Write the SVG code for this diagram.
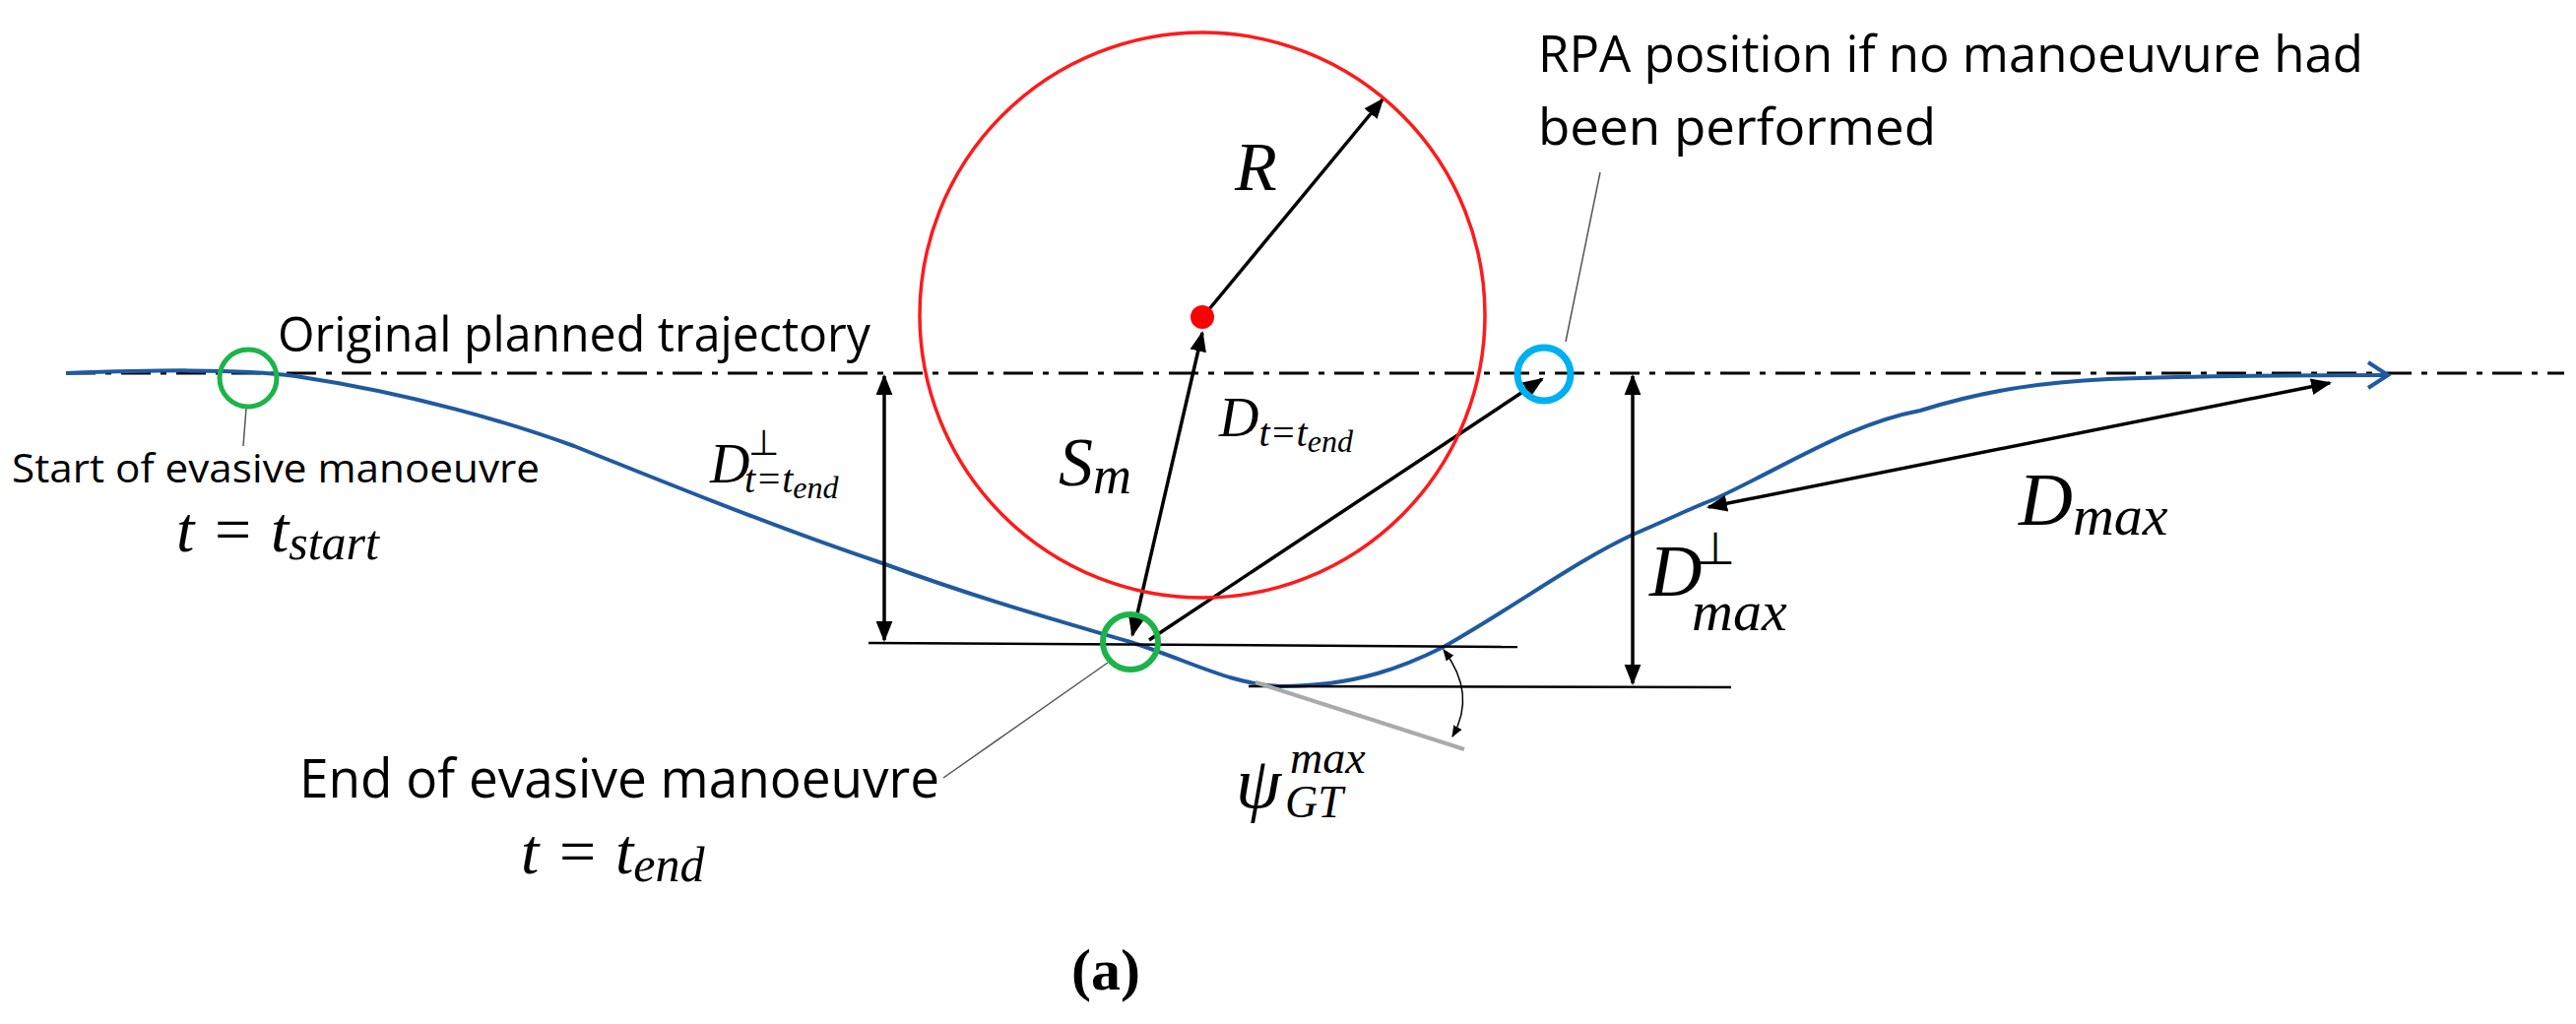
<svg xmlns="http://www.w3.org/2000/svg" width="2616" height="1040" viewBox="0 0 2616 1040">
<style>
.t{font-family:"Open Sans","Liberation Sans",sans-serif;fill:#000}
.m{font-family:"Liberation Serif","DejaVu Serif",serif;font-style:italic;fill:#000}
.r{font-family:"Liberation Serif",serif;fill:#000}
.a{stroke:#000;stroke-width:3.5;fill:none;marker-end:url(#h);marker-start:url(#h)}
.a1{stroke:#000;stroke-width:3.5;fill:none;marker-end:url(#h)}
.ln{stroke:#000;stroke-width:2.5;fill:none}
.ld{stroke:#555;stroke-width:1.5;fill:none}
</style>
<defs>
<marker id="h" viewBox="0 0 10 10" refX="9" refY="5" markerWidth="6" markerHeight="6" orient="auto-start-reverse" markerUnits="strokeWidth"><path d="M0,1 L10,5 L0,9 Z" fill="#000"/></marker>
<marker id="hs" viewBox="0 0 10 10" refX="9" refY="5" markerWidth="8" markerHeight="8" orient="auto-start-reverse" markerUnits="strokeWidth"><path d="M0,1 L10,5 L0,9 Z" fill="#000"/></marker>
</defs>
<rect width="2616" height="1040" fill="#fff"/>
<g id="connectors">
<line x1="67" y1="379" x2="2604" y2="379" stroke="#000" stroke-width="3" stroke-dasharray="30,10,6,10"/>
<path d="M67,379 C150,376 240,374 300,382 C420,400 520,430 583,453 C700,500 800,540 896,572 C1000,610 1080,632 1148,652 C1210,672 1250,695 1300,697 C1380,697 1430,675 1466,657 C1540,615 1600,570 1658,543 C1700,525 1720,515 1741,507 C1820,470 1880,430 1950,417 C2020,395 2080,388 2141,385 C2250,381 2350,381 2425,381" stroke="#1f5aa0" stroke-width="4" fill="none"/>
<path d="M2405,368 L2425,381 L2405,394" stroke="#1f5aa0" stroke-width="4" fill="none"/>
<line class="ln" x1="882" y1="653" x2="1541" y2="657"/>
<line class="ln" x1="1268" y1="697" x2="1758" y2="698"/>
<line x1="1275" y1="693" x2="1487" y2="761" stroke="#aaa" stroke-width="4"/>
<path d="M1466,660 Q1500,705 1475,748" stroke="#000" stroke-width="1.5" fill="none" marker-start="url(#hs)" marker-end="url(#hs)"/>
<line class="a" x1="1221" y1="338" x2="1150" y2="645"/>
<line class="a1" x1="1228" y1="314" x2="1404" y2="101"/>
<line class="a1" x1="1167" y1="650" x2="1566" y2="385"/>
<line class="a" x1="898" y1="382" x2="898" y2="650"/>
<line class="a" x1="1658" y1="382" x2="1658" y2="694"/>
<line class="a" x1="1735" y1="515" x2="2366" y2="389"/>
<line class="ld" x1="250" y1="415" x2="247" y2="453"/>
<line class="ld" x1="958" y1="790" x2="1125" y2="673"/>
<line class="ld" x1="1625" y1="175" x2="1590" y2="347"/>
</g>
<g id="obstacle">
<circle cx="1221" cy="320" r="287" fill="none" stroke="#ff1a1a" stroke-width="3.5"/>
<circle cx="1221" cy="322" r="12" fill="#ff0000"/>
</g>
<g id="start"><circle cx="252" cy="384" r="29" fill="none" stroke="#1db34a" stroke-width="5"/></g>
<g id="end"><circle cx="1148" cy="652" r="28" fill="none" stroke="#1db34a" stroke-width="6"/></g>
<g id="rpa"><circle cx="1568" cy="380" r="27" fill="none" stroke="#00b0f0" stroke-width="7"/></g>
<g id="labels">
<text class="t" x="282" y="357" font-size="50" textLength="602" lengthAdjust="spacingAndGlyphs">Original planned trajectory</text>
<text class="t" x="12" y="490" font-size="40" textLength="536" lengthAdjust="spacingAndGlyphs">Start of evasive manoeuvre</text>
<text class="m" x="179" y="560" font-size="66">t <tspan class="r">=</tspan> t<tspan font-size="50" dy="8">start</tspan></text>
<text class="t" x="304" y="810" font-size="54" textLength="650" lengthAdjust="spacingAndGlyphs">End of evasive manoeuvre</text>
<text class="m" x="529" y="887" font-size="66">t <tspan class="r">=</tspan> t<tspan font-size="50" dy="8">end</tspan></text>
<text class="t" x="1562" y="73" font-size="52" textLength="838" lengthAdjust="spacingAndGlyphs">RPA position if no manoeuvure had</text>
<text class="t" x="1562" y="147" font-size="52" textLength="404" lengthAdjust="spacingAndGlyphs">been performed</text>
<text class="m" x="1254" y="193" font-size="70">R</text>
<text class="m" x="1075" y="493" font-size="70">S<tspan font-size="54" dy="8">m</tspan></text>
<text class="m" x="1238" y="443" font-size="56">D<tspan font-size="40" dy="10">t<tspan class="r">=</tspan>t<tspan font-size="32" dy="6">end</tspan></tspan></text>
<text class="r" x="760" y="462" font-size="36">⊥</text>
<text class="m" x="721" y="490" font-size="56">D</text>
<text class="m" x="756" y="500" font-size="40">t<tspan class="r">=</tspan>t<tspan font-size="32" dy="6">end</tspan></text>
<text class="r" x="1722" y="573" font-size="46">⊥</text>
<text class="m" x="1675" y="605" font-size="74">D</text>
<text class="m" x="1718" y="640" font-size="58">max</text>
<text class="m" x="2050" y="533" font-size="76">D<tspan font-size="58" dy="10">max</tspan></text>
<text class="m" x="1255" y="820" font-size="74">ψ</text>
<text class="m" x="1310" y="785" font-size="46">max</text>
<text class="m" x="1305" y="830" font-size="46">GT</text>
<text class="r" x="1088" y="1005" font-size="60" font-weight="bold">(a)</text>
</g>
</svg>
